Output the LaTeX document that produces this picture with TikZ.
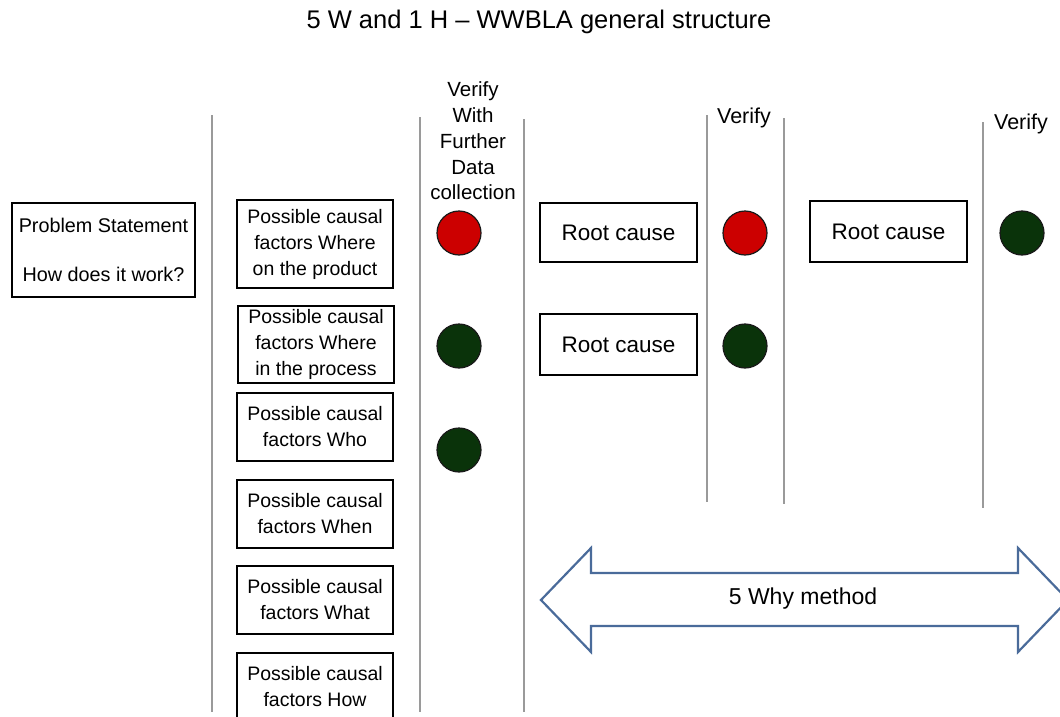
\documentclass[tikz,border=0pt]{standalone}
\usepackage{fontspec}
\setmainfont{Liberation Sans}
\definecolor{lampred}{HTML}{CC0000}
\definecolor{lampgreen}{HTML}{0A330A}
\definecolor{arrowblue}{HTML}{4A6B9A}
\definecolor{rulegray}{HTML}{9A9A9A}
\begin{document}
\begin{tikzpicture}[x=1pt,y=-1pt,
  sep/.style={draw=rulegray, line width=2pt},
  box/.style={draw, line width=1.6pt, inner sep=0pt, align=center},
  factor/.style={box, minimum width=156pt, minimum height=68pt,
    font=\fontsize{19.5}{26}\selectfont},
  cause/.style={box, minimum width=157pt, minimum height=60pt,
    font=\fontsize{22.5}{26}\selectfont},
  lamp/.style={circle, draw=black!90, line width=1.2pt, minimum size=44pt, inner sep=0pt},
  redlamp/.style={lamp, fill=lampred},
  greenlamp/.style={lamp, fill=lampgreen},
  colhead/.style={align=center, inner sep=0pt, font=\fontsize{20.5}{25.75}\selectfont}
]
\useasboundingbox (0,0) rectangle (1060,717);
\clip (0,0) rectangle (1060,717);

% title
\node[font=\fontsize{25.5}{30}\selectfont] (title) at (539,22) {5 W and 1 H – WWBLA general structure};

% column separators
\draw[sep] (212,115) -- (212,712);
\draw[sep] (420,117) -- (420,712);
\draw[sep] (524,119) -- (524,712);
\draw[sep] (707,115) -- (707,502);
\draw[sep] (784,118) -- (784,504);
\draw[sep] (983,122) -- (983,508);

% problem statement
\node[box, minimum width=183pt, minimum height=94pt, font=\fontsize{19.8}{24.5}\selectfont]
  (problem) at (103.5,250) {Problem Statement\\[24.5pt]How does it work?};

% possible causal factors
\node[factor, minimum height=88pt] (f1) at (315,244) {Possible causal\\factors Where\\on the product};
\node[factor, minimum height=77pt] (f2) at (316,344.5) {Possible causal\\factors Where\\in the process};
\node[factor] (f3) at (315,427) {Possible causal\\factors Who};
\node[factor] (f4) at (315,514) {Possible causal\\factors When};
\node[factor] (f5) at (315,600) {Possible causal\\factors What};
\node[factor] (f6) at (315,687) {Possible causal\\factors How};

% column headings
\node[colhead] (h1) at (473,141) {Verify\\With\\Further\\Data\\collection};
\node[colhead, font=\fontsize{21.5}{26}\selectfont] (h2) at (744,118) {Verify};
\node[colhead, font=\fontsize{21.5}{26}\selectfont] (h3) at (1021,124) {Verify};

% verification lamps
\node[redlamp] (l1) at (459,233) {};
\node[greenlamp] (l2) at (459,346) {};
\node[greenlamp] (l3) at (459,450) {};
\node[redlamp] (l4) at (745,233) {};
\node[greenlamp] (l5) at (745,346) {};
\node[greenlamp] (l6) at (1022,233) {};

% root causes
\node[cause, minimum height=59pt] (c1) at (618.5,232.5) {Root cause};
\node[cause, minimum height=61pt] (c2) at (618.5,344.5) {Root cause};
\node[cause, minimum height=61pt] (c3) at (888.5,231.5) {Root cause};

% 5 Why double arrow
\draw[arrowblue, line width=2.2pt, line join=miter]
  (541,600) -- (591,548) -- (591,573) -- (1018,573) -- (1018,548) -- (1068,600)
  -- (1018,652) -- (1018,626) -- (591,626) -- (591,652) -- cycle;
\node[font=\fontsize{23}{26}\selectfont] (why) at (803,599) {5 Why method};
\end{tikzpicture}
\end{document}
